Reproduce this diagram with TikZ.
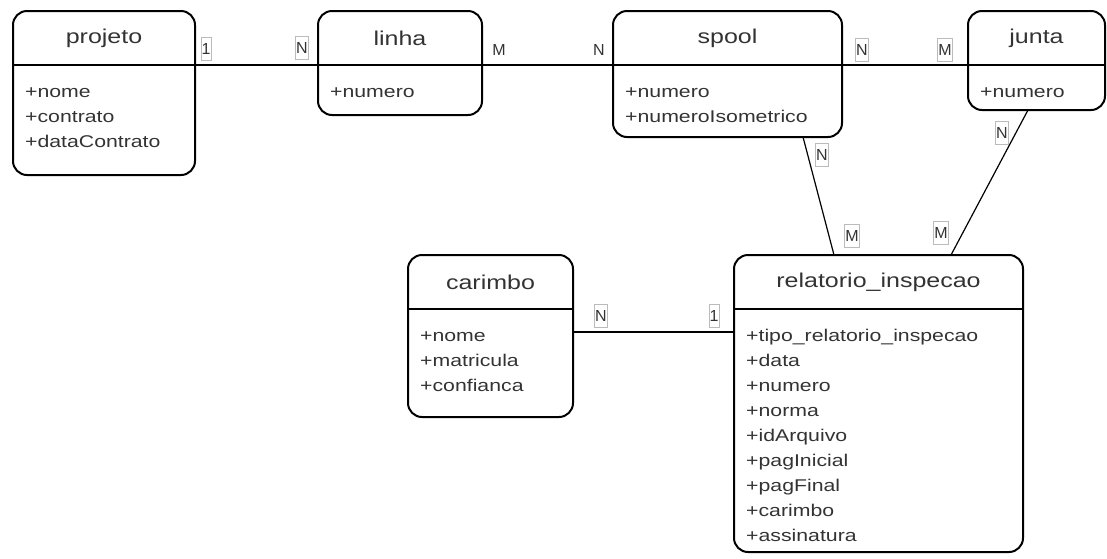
\documentclass[tikz,border=0pt]{standalone}
\usepackage{fontspec}
\setmainfont{Liberation Sans}[FakeStretch=1.25]
\newfontfamily\cardfont{Liberation Sans}
\usetikzlibrary{positioning}
\definecolor{ink}{HTML}{333333}
\definecolor{cardline}{HTML}{BBBBBB}

\tikzset{
  entity/.style={draw, line width=2pt, rounded corners=14pt, outer sep=0pt},
  head/.style={minimum height=54pt, inner sep=0pt, outer sep=0pt, text=ink,
    font=\fontsize{20}{24}\selectfont},
  divider/.style={line width=2pt},
  attr/.style={anchor=base west, inner sep=0pt, text=ink,
    font=\fontsize{17}{25}\selectfont},
  card/.style={draw=cardline, line width=0.8pt, inner xsep=0.6pt, inner ysep=0pt,
    minimum height=23pt, text=ink, font=\cardfont\fontsize{16}{18}\selectfont},
  bare/.style={card, draw=none},
  rel/.style={line width=1.2pt},
}

\begin{document}
\begin{tikzpicture}[x=1pt, y=-1pt]
    \useasboundingbox (0,0) rectangle (1107,558);

    % Entities
    \node[entity, minimum width=182pt, minimum height=164pt] (projeto) at (104,93) {};
    \node[head, minimum width=182pt, below=0pt of projeto.north] (projeto-h) {projeto};
    \draw[divider] (projeto-h.south west) -- (projeto-h.south east);
    \foreach \a [count=\i] in {nome,contrato,dataContrato}
        \node[attr] (projeto-a\i) at ([xshift=12pt, yshift=-7pt-25pt*\i]projeto-h.south west) {+\a};

    \node[entity, minimum width=164pt, minimum height=104pt] (linha) at (400,63) {};
    \node[head, minimum width=164pt, below=0pt of linha.north] (linha-h) {linha};
    \draw[divider] (linha-h.south west) -- (linha-h.south east);
    \node[attr] (linha-a1) at ([xshift=12pt, yshift=-32pt]linha-h.south west) {+numero};

    \node[entity, minimum width=229pt, minimum height=126pt] (spool) at (727.5,74) {};
    \node[head, minimum width=229pt, below=0pt of spool.north] (spool-h) {spool};
    \draw[divider] (spool-h.south west) -- (spool-h.south east);
    \foreach \a [count=\i] in {numero,numeroIsometrico}
        \node[attr] (spool-a\i) at ([xshift=12pt, yshift=-7pt-25pt*\i]spool-h.south west) {+\a};

    \node[entity, minimum width=137pt, minimum height=99pt] (junta) at (1036.5,60.5) {};
    \node[head, minimum width=137pt, below=0pt of junta.north] (junta-h) {junta};
    \draw[divider] (junta-h.south west) -- (junta-h.south east);
    \node[attr] (junta-a1) at ([xshift=12pt, yshift=-32pt]junta-h.south west) {+numero};

    \node[entity, minimum width=165pt, minimum height=162pt] (carimbo) at (490.5,336) {};
    \node[head, minimum width=165pt, below=0pt of carimbo.north] (carimbo-h) {carimbo};
    \draw[divider] (carimbo-h.south west) -- (carimbo-h.south east);
    \foreach \a [count=\i] in {nome,matricula,confianca}
        \node[attr] (carimbo-a\i) at ([xshift=12pt, yshift=-7pt-25pt*\i]carimbo-h.south west) {+\a};

    \node[entity, minimum width=289pt, minimum height=297pt] (relat) at (878.5,403.5) {};
    \node[head, minimum width=289pt, below=0pt of relat.north] (relat-h) {relatorio\_inspecao};
    \draw[divider] (relat-h.south west) -- (relat-h.south east);
    \foreach \a [count=\i] in {tipo\_relatorio\_inspecao,data,numero,norma,idArquivo,pagInicial,pagFinal,carimbo,assinatura}
        \node[attr] (relat-a\i) at ([xshift=12pt, yshift=-7pt-25pt*\i]relat-h.south west) {+\a};

    % Relationships
    \draw[rel] (projeto-h.south east) -- (linha-h.south west);
    \draw[rel] (linha-h.south east) -- (spool-h.south west);
    \draw[rel] (spool-h.south east) -- (junta-h.south west);
    \draw[rel] ([xshift=75.5pt]spool.south) -- ([xshift=-44.5pt]relat.north);
    \draw[rel] ([xshift=-8.5pt]junta.south) -- ([xshift=72.5pt]relat.north);
    \draw[rel] ([yshift=-23pt]carimbo-h.south east) -- ([yshift=-23pt]relat-h.south west);

    % Cardinalities
    \node[card] (pl-1) at (206,49) {1};
    \node[card] (pl-n) at (302,48) {N};
    \node[bare] (ls-m) at (499,50) {M};
    \node[bare] (ls-n) at (599,50) {N};
    \node[card] (sj-n) at (862,50) {N};
    \node[card] (sj-m) at (945,50) {M};
    \node[card] (sr-n) at (822,155) {N};
    \node[card] (sr-m) at (852,236) {M};
    \node[card] (jr-n) at (1002,133) {N};
    \node[card] (jr-m) at (941,233) {M};
    \node[card] (cr-n) at (601,316) {N};
    \node[card] (cr-1) at (714,316) {1};
\end{tikzpicture}
\end{document}
